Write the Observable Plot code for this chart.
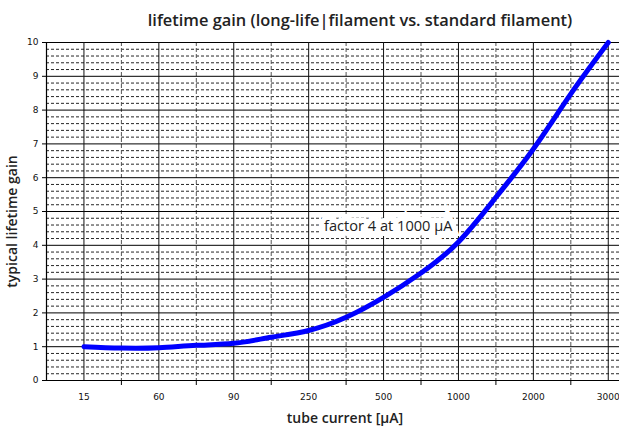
<!DOCTYPE html>
<html>
<head>
<meta charset="utf-8">
<script src="https://cdn.jsdelivr.net/npm/d3@7"></script>
<script src="https://cdn.jsdelivr.net/npm/@observablehq/plot@0.6"></script>
<style>
  html, body { margin: 0; padding: 0; background: #fff; }
  svg { display: block; }
</style>
</head>
<body>
<div id="chart"></div>
<script>
// Category labels of the x axis (tube current, µA) – equally spaced categories
const currentLabels = ["15", "60", "90", "250", "500", "1000", "2000", "3000"];
// Curve samples: position along the category axis (index) and typical lifetime gain
const curveIndex = [0, 0.5, 1, 1.5, 2, 2.5, 3, 3.5, 4, 4.5, 5, 5.5, 6, 6.5, 7];
const curveGain  = [1.0, 0.96, 0.97, 1.04, 1.10, 1.28, 1.48, 1.87, 2.46, 3.18, 4.1, 5.42, 6.85, 8.48, 10.0];
// Y tick labels
const gainTicks = [0, 1, 2, 3, 4, 5, 6, 7, 8, 9, 10];
// Annotation
const noteText = "factor 4 at 1000 µA";
const noteAt = {label: "1000", gain: 4};

const title = "lifetime gain (long-life|filament vs. standard filament)";

const points = curveIndex.map((x, i) => ({x, y: curveGain[i]}));
const catIdx = currentLabels.map((_, i) => i);
const midIdx = catIdx.slice(0, -1).map(i => i + 0.5);
const minorY = d3.range(1, 50).map(k => k / 5).filter(v => Math.abs(v - Math.round(v)) > 1e-6);
const majorY = gainTicks.filter(v => v > 0);

const font = "'Open Sans', Lato, sans-serif";
const tickFont = "'DejaVu Sans', sans-serif";

const chart = Plot.plot({
  width: 619,
  height: 432,
  marginLeft: 46,
  marginRight: 0,
  marginTop: 42,
  marginBottom: 52,
  x: {type: "linear", domain: [-0.5, 7.15], axis: null},
  y: {domain: [0, 10], axis: null},
  style: {fontFamily: tickFont, background: "#fff"},
  marks: [
    // minor horizontal dashed grid
    Plot.ruleY(minorY, {stroke: "#000", strokeWidth: 1, strokeDasharray: "3,2", strokeOpacity: 0.85}),
    // minor vertical dashed grid
    Plot.ruleX(midIdx, {stroke: "#555", strokeWidth: 1, strokeDasharray: "4,2"}),
    // major grid
    Plot.ruleY(majorY, {stroke: "#000", strokeWidth: 1}),
    Plot.ruleX(catIdx, {stroke: "#111", strokeWidth: 1}),
    // axis lines
    Plot.ruleX([-0.5], {stroke: "#000", strokeWidth: 1.2}),
    Plot.ruleY([0], {stroke: "#000", strokeWidth: 1.2}),
    // y axis
    Plot.axisY({ticks: gainTicks, tickSize: 4, tickPadding: 4, fontSize: 9, label: null, tickFormat: d => String(d), fill: "#111"}),
    // x axis: labels at categories, ticks between
    Plot.axisX({ticks: catIdx, tickSize: 0, tickPadding: 13, fontSize: 9, label: null, tickFormat: i => currentLabels[i], fill: "#111"}),
    Plot.axisX({ticks: midIdx, tickSize: 5, tickFormat: () => "", label: null}),
    // curve
    Plot.line(points, {x: "x", y: "y", curve: "natural", stroke: "#0000ff", strokeWidth: 5}),
    // annotation
    Plot.text([noteAt], {
      x: d => currentLabels.indexOf(d.label), y: "gain", text: () => noteText,
      textAnchor: "end", dx: -6, dy: -19, fontSize: 14.6, fontWeight: 500, fontFamily: font, fill: "#222",
      stroke: "#fff", strokeWidth: 10, strokeLinejoin: "miter"
    }),
    // title
    Plot.text([title], {
      frameAnchor: "top", lineAnchor: "middle", textAnchor: "middle", text: d => d, dy: -22, dx: 27, fontSize: 16.4, fontWeight: 600,
      fontFamily: font, fill: "#222"
    }),
    // axis titles
    Plot.text(["tube current [µA]"], {
      frameAnchor: "bottom", lineAnchor: "middle", textAnchor: "middle", text: d => d, dy: 38, dx: 12, fontSize: 14, fontWeight: 600,
      fontFamily: font, fill: "#222"
    }),
    Plot.text(["typical lifetime gain"], {
      frameAnchor: "left", lineAnchor: "middle", textAnchor: "middle", text: d => d, dx: -34, dy: 10, rotate: -90, fontSize: 14, fontWeight: 600,
      fontFamily: font, fill: "#222"
    })
  ]
});
document.getElementById("chart").appendChild(chart);
</script>
</body>
</html>
